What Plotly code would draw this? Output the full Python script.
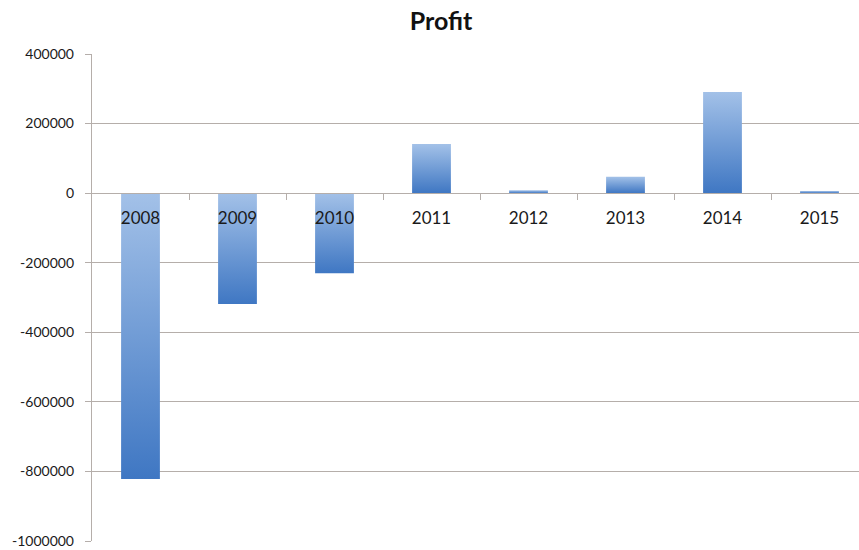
import plotly.graph_objects as go

# Yearly profit figures
years = ["2008", "2009", "2010", "2011", "2012", "2013", "2014", "2015"]
profit = [-822000, -319000, -230000, 141000, 8000, 47000, 291000, 6000]

y_ticks = [400000, 200000, 0, -200000, -400000, -600000, -800000, -1000000]

BAR_HALF = 0.2          # half bar width in category units
DARK = "#3f77c3"
LIGHT = "#a3c1e8"
GRID = "#b5aeaa"
FONT = "Lato"

fig = go.Figure()

# Each bar is a filled rectangle so it can carry a vertical gradient
for i, (yr, v) in enumerate(zip(years, profit)):
    x0, x1 = i - BAR_HALF, i + BAR_HALF
    fig.add_trace(go.Scatter(
        x=[x0, x1, x1, x0, x0],
        y=[0, 0, v, v, 0],
        mode="lines",
        line=dict(width=0),
        fill="toself",
        fillgradient=dict(type="vertical",
                          colorscale=[[0, DARK], [1, LIGHT]]),
        name=yr,
        hoverinfo="text",
        text=f"{yr}: {v}",
        showlegend=False,
    ))

y_min, y_max = -1000000, 400000
zero_pos = (0 - y_min) / (y_max - y_min)

fig.update_layout(
    width=859, height=550,
    margin=dict(l=92, r=0, t=54, b=9),
    paper_bgcolor="white",
    plot_bgcolor="white",
    font=dict(family=FONT, color="#1a1a1a"),
    title=dict(text="<b>Profit</b>", x=441 / 859, xanchor="center",
               y=1 - 21 / 550, yanchor="middle",
               font=dict(family=FONT, size=25, color="#111")),
    xaxis=dict(
        range=[-0.5, -0.5 + 767 / 97],
        anchor="free", position=zero_pos,
        showline=True, linecolor=GRID, linewidth=1.4,
        showgrid=False, zeroline=False,
        tickmode="array",
        tickvals=list(range(len(years))), ticktext=years,
        ticks="", ticklabelstandoff=9,
        tickfont=dict(family=FONT, size=17, color="#1a1a1a"),
        minor=dict(tickmode="array",
                   tickvals=[i + 0.5 for i in range(len(years))],
                   ticks="outside", ticklen=6, tickcolor=GRID,
                   showgrid=False),
        fixedrange=True,
    ),
    yaxis=dict(
        range=[y_min, y_max],
        tickmode="array", tickvals=y_ticks,
        ticktext=[str(t) for t in y_ticks],
        showline=True, linecolor=GRID, linewidth=1.4,
        ticks="outside", ticklen=6, tickcolor=GRID,
        ticklabelstandoff=8,
        showgrid=True, gridcolor=GRID, gridwidth=1.4,
        zeroline=False,
        tickfont=dict(family=FONT, size=14, color="#1a1a1a"),
        fixedrange=True,
    ),
)

fig.write_html("out.html")
